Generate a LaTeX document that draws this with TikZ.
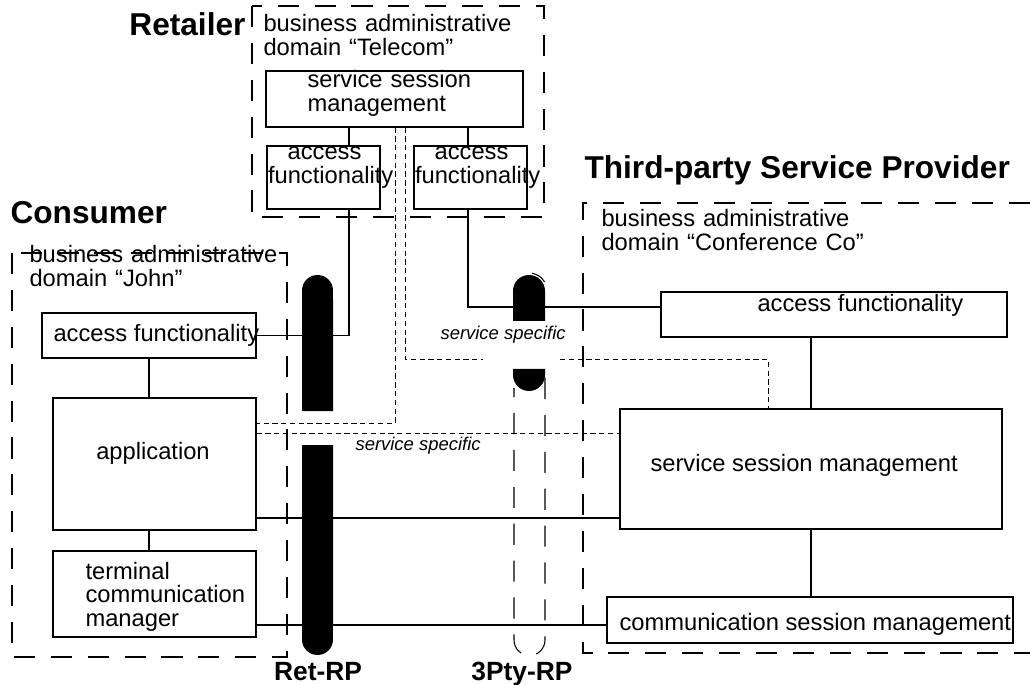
\documentclass[tikz,border=0pt]{standalone}
\usepackage{fontspec}
\setmainfont{Liberation Sans}
\usepackage{tikz}
\hyphenpenalty=10000
\exhyphenpenalty=10000
\newcommand{\bodyfont}{\fontsize{13.5}{13.6}\selectfont}
\newcommand{\svcfont}{\fontsize{10.5}{12}\selectfont\itshape}
\newcommand{\titlefont}{\fontsize{18}{20}\selectfont\bfseries}
\newcommand{\rpfont}{\fontsize{15}{17}\selectfont\bfseries}
\tikzset{
  box/.style={draw, inner sep=0pt},
  wh/.style 2 args={minimum width=#1*0.02cm, minimum height=#2*0.02cm},
  txt/.style={inner sep=0pt, font=\bodyfont},
  svctxt/.style={inner sep=0pt, font=\svcfont},
  title/.style={inner sep=0pt, font=\titlefont},
  rplabel/.style={inner sep=0pt, font=\rpfont},
  svc/.style={line width=0.5pt, dash pattern=on 3pt off 2pt},
  domline/.style={dash pattern=on 12pt off 9pt},
}

\begin{document}
\begin{tikzpicture}[x=0.02cm, y=-0.02cm, line width=0.6pt]
		\useasboundingbox (0,0) rectangle (1030,685);
		%domains
		\draw[domline] (252,6) rectangle (544,217);
		\draw[domline] (12,253) rectangle (287,657);
		\draw[domline] (1030,203) -- (583,203) -- (583,653) -- (1030,653);
		\node[title, anchor=base east] (retailer) at (246,36) {Retailer};
		\node[title, anchor=base west] (consumer) at (10,224) {Consumer};
		\node[title, anchor=base west] (provider) at (584,179) {Third-party Service Provider};
		\node[txt, anchor=base west, text width=6cm, align=left] (teldom) at (263,32) {business administrative\\domain “Telecom”};
		\node[txt, anchor=base west, text width=6cm, align=left] (johndom) at (29,263) {business administrative\\domain “John”};
		\node[txt, anchor=base west, text width=7cm, align=left] (confdom) at (601,227) {business administrative\\domain “Conference Co”};
		
		%boxes
		\node[box, wh={257}{56}] (rssm) at (394.5,99) {};
		\node[box, wh={113}{63}] (raf1) at (323.5,177.5) {};
		\node[box, wh={113}{63}] (raf2) at (470.5,177.5) {};
		\node[box, wh={214}{45}] (caf) at (149,335.5) {};
		\node[box, wh={203}{132}] (app) at (154.5,464) {};
		\node[box, wh={203}{86}] (tcm) at (154.5,594) {};
		\node[box, wh={346}{45}] (confaf) at (834,314.5) {};
		\node[box, wh={382}{120}] (cssm) at (811,469) {};
		\node[box, wh={406}{46}] (csm) at (810,620) {};
		
		\node[txt, anchor=base west, text width=4cm, align=left] (rssmtxt) at (307,88) {service session\\management};
		\node[txt, anchor=base, text width=113*0.02cm, align=center] (raf1txt) at (324.5,160) {access\\functionality};
		\node[txt, anchor=base, text width=113*0.02cm, align=center] (raf2txt) at (471.5,160) {access\\functionality};
		\node[txt, anchor=base west] (caftxt) at (53,342) {access functionality};
		\node[txt, anchor=base] (apptxt) at (153,459) {application};
		\node[txt, anchor=base west, text width=4cm, align=left] (tcmtxt) at (85,579) {terminal\\communication\\manager};
		\node[txt, anchor=base west] (confaftxt) at (757,312) {access functionality};
		\node[txt, anchor=base west] (cssmtxt) at (650,471) {service session management};
		\node[txt, anchor=base west] (csmtxt) at (619,630) {communication session management};
		
		%connectors
		\coordinate (retL) at (349,0);
		\coordinate (retR) at (468,0);
		\coordinate (svcL) at (395,0);
		\coordinate (svcR) at (405,0);
		\coordinate (svcbend) at (768,359);
		\draw (rssm.south -| retL) -- (raf1.north -| retL);
		\draw (rssm.south -| retR) -- (raf2.north -| retR);
		\draw (raf1.south -| retL) |- (caf.east);
		\draw (raf2.south -| retR) |- ([yshift=0.15cm]confaf.west);
		\draw (caf.south) -- (caf.south |- app.north);
		\draw (app.south -| caf.south) -- (tcm.north -| caf.south);
		\draw ([yshift=-1.08cm]app.east) -- ([yshift=-1.08cm]app.east -| cssm.west);
		\draw ([yshift=-0.62cm]tcm.east) -- ([yshift=-0.62cm]tcm.east -| csm.west);
		\draw (cssm.north) -- (cssm.north |- confaf.south);
		\draw (cssm.south) -- (cssm.south |- csm.north);
		\draw[svc] (rssm.south -| svcL) |- ([yshift=0.82cm]app.east);
		\draw[svc] (rssm.south -| svcR) |- (svcbend) -- (cssm.north -| svcbend);
		\draw[svc] ([yshift=0.62cm]app.east) -- ([yshift=0.62cm]app.east -| cssm.west);
		\fill[white] (483,351) rectangle (560,366);
		\node[svctxt, anchor=base west] (svc1) at (440,340) {service specific};
		\node[svctxt, anchor=base west] (svc2) at (355,450) {service specific};
		
		%reference points
		\fill (302,411) -- (302,290.5) arc (180:0:0.31cm) -- (333,411) -- cycle;
		\fill (302,445) -- (302,639.5) arc (180:360:0.31cm) -- (333,445) -- cycle;
		\fill (513,321) -- (513,291) arc (180:0:0.32cm) -- (545,321) -- cycle;
		\fill (513,369) -- (513,375) arc (180:360:0.32cm) -- (545,369) -- cycle;
		\draw (529,291) ++(80:0.36cm) arc (80:30:0.36cm);
		\draw[domline] (545,378) -- (545,640) arc (0:-180:0.31cm) -- (514,388);
		\node[rplabel, anchor=base] (retrp) at (318,680) {Ret-RP};
		\node[rplabel, anchor=base] (ptyrp) at (522,680) {3Pty-RP};
\end{tikzpicture}
\end{document}
